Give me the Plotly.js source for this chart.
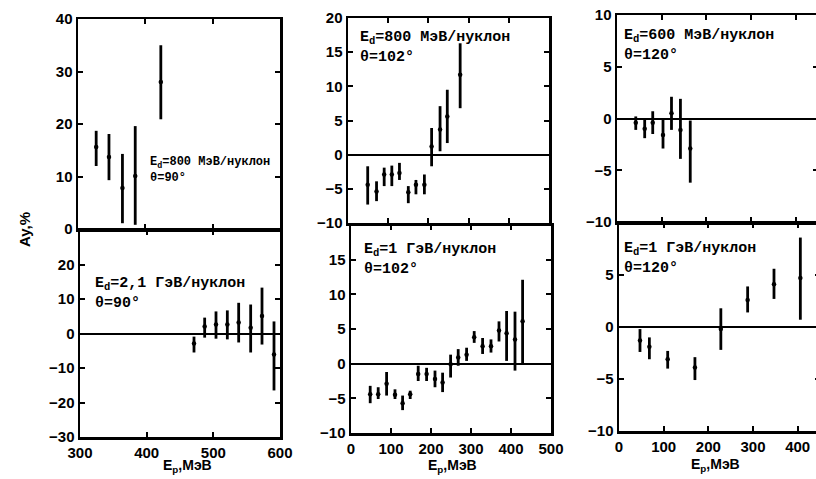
<!DOCTYPE html>
<html><head><meta charset="utf-8">
<script src="https://cdn.plot.ly/plotly-3.0.1.min.js"></script>
<style>html,body{margin:0;padding:0;overflow:hidden;background:#fff;}#plot{width:822px;height:479px;}</style>
</head><body><div id="plot"></div>
<script>
// Panel 1: Ed=800 MeV/nucleon, theta=90
const p1x = [327, 346, 366, 385, 423];
const p1y = [15.6, 13.7, 7.8, 10.1, 28.0];
const p1hi = [18.7, 18.1, 14.3, 19.6, 35.0];
const p1lo = [12.0, 9.3, 1.1, 0.8, 20.9];
// Panel 2: Ed=2.1 GeV/nucleon, theta=90
const p2x = [471, 487, 504, 521, 538, 556, 573, 591];
const p2y = [-2.9, 2.0, 2.6, 2.6, 3.2, 1.7, 5.1, -6.1];
const p2hi = [-0.9, 4.6, 6.4, 6.7, 8.9, 8.4, 13.3, 3.5];
const p2lo = [-5.5, -1.2, -1.5, -1.7, -2.6, -5.5, -3.2, -16.5];
// Panel 3: Ed=800 MeV/nucleon, theta=102
const p3x = [49, 71, 90, 109, 128, 150, 169, 190, 208, 229, 247, 279];
const p3y = [-4.4, -5.4, -2.9, -2.9, -2.7, -5.5, -4.4, -4.4, 1.2, 3.7, 5.6, 11.7];
const p3hi = [-1.7, -3.9, -1.9, -1.6, -1.2, -4.6, -3.7, -2.9, 3.9, 7.1, 9.5, 16.3];
const p3lo = [-7.3, -6.8, -4.6, -4.6, -3.7, -7.1, -5.8, -5.8, -1.7, 0.5, 1.7, 6.8];
// Panel 4: Ed=1 GeV/nucleon, theta=102
const p4x = [48, 68, 89, 110, 129, 148, 168, 189, 210, 229, 249, 268, 289, 308, 329, 350, 370, 389, 410, 429];
const p4y = [-4.4, -4.4, -2.9, -4.5, -5.7, -4.4, -1.5, -1.5, -2.2, -2.7, -0.1, 0.9, 1.3, 3.8, 2.5, 2.5, 4.8, 4.4, 3.5, 6.1];
const p4hi = [-3.2, -3.4, -1.2, -3.7, -4.6, -3.9, -0.3, -0.6, -1.0, -1.3, 1.3, 2.1, 2.3, 4.7, 3.7, 3.5, 6.1, 7.6, 7.5, 12.1];
const p4lo = [-5.7, -5.1, -4.6, -5.1, -6.7, -5.1, -2.5, -2.5, -3.4, -4.1, -2.0, -0.3, 0.4, 3.0, 1.4, 1.6, 3.2, 0.4, -1.0, -0.1];
// Panel 5: Ed=600 MeV/nucleon, theta=120
const p5x = [42, 62, 80, 103, 122, 142, 164];
const p5y = [-0.4, -1.0, -0.4, -1.6, 0.5, -1.1, -2.9];
const p5hi = [0.2, -0.1, 0.7, -0.1, 2.1, 1.9, -0.2];
const p5lo = [-1.1, -1.9, -1.5, -2.9, -1.1, -3.9, -6.2];
// Panel 6: Ed=1 GeV/nucleon, theta=120
const p6x = [47, 68, 109, 170, 228, 288, 347, 406];
const p6y = [-1.3, -1.9, -3.1, -3.9, -0.2, 2.6, 4.1, 4.7];
const p6hi = [-0.2, -1.0, -2.3, -2.9, 1.8, 3.9, 5.6, 8.6];
const p6lo = [-2.4, -3.1, -4.0, -5.1, -2.2, 1.4, 2.7, 0.7];

// Tick values
const xTicksLeft = [300, 400, 500, 600];
const xTicksMid = [0, 100, 200, 300, 400, 500];
const xTicksRight = [0, 100, 200, 300, 400];
const yTicks1 = [0, 10, 20, 30, 40];
const yTicks2 = [-30, -20, -10, 0, 10, 20];
const yTicks3 = [-10, -5, 0, 5, 10, 15, 20];
const yTicks4 = [-10, -5, 0, 5, 10, 15];
const yTicks5 = [-10, -5, 0, 5, 10];
const yTicks6 = [-10, -5, 0, 5];

const panelTexts = [
  'E<sub>d</sub>=800 МэВ/нуклон<br>θ=90°',
  'E<sub>d</sub>=2,1 ГэВ/нуклон<br>θ=90°',
  'E<sub>d</sub>=800 МэВ/нуклон<br>θ=102°',
  'E<sub>d</sub>=1 ГэВ/нуклон<br>θ=102°',
  'E<sub>d</sub>=600 МэВ/нуклон<br>θ=120°',
  'E<sub>d</sub>=1 ГэВ/нуклон<br>θ=120°'
];
const xTitle = '<b>E<sub>p</sub>,МэВ</b>';
const yTitle = '<b>Ay,%</b>';

const W = 822, H = 479;
const fx = p => p / W;
const fy = p => 1 - p / H;
const lab = arr => arr.map(v => '<b>' + String(v).replace('-', '−') + '</b>');

function tr(x, y, hi, lo, n) {
  return {
    type: 'scatter', mode: 'markers', x: x, y: y,
    xaxis: 'x' + (n === 1 ? '' : n), yaxis: 'y' + (n === 1 ? '' : n),
    marker: {color: '#000', size: 4.5},
    error_y: {type: 'data', symmetric: false,
      array: hi.map((v, i) => v - y[i]),
      arrayminus: lo.map((v, i) => y[i] - v),
      color: '#000', thickness: 2.8, width: 0},
    showlegend: false, hoverinfo: 'skip'
  };
}
const data = [
  tr(p1x, p1y, p1hi, p1lo, 1), tr(p2x, p2y, p2hi, p2lo, 2),
  tr(p3x, p3y, p3hi, p3lo, 3), tr(p4x, p4y, p4hi, p4lo, 4),
  tr(p5x, p5y, p5hi, p5lo, 5), tr(p6x, p6y, p6hi, p6lo, 6)
];

const tickFont = {family: 'Liberation Sans, Arial, sans-serif', size: 15, color: '#000'};
function ax(ticks, extra) {
  return Object.assign({
    showgrid: false, zeroline: true, zerolinecolor: '#000', zerolinewidth: 2,
    showline: true, linecolor: '#000', linewidth: 2.5, mirror: 'ticks',
    ticks: 'inside', ticklen: 5, tickwidth: 2, tickcolor: '#000',
    tickmode: 'array', tickvals: ticks, ticktext: lab(ticks),
    tickfont: tickFont, automargin: false, fixedrange: true
  }, extra);
}

const layout = {
  width: W, height: H, margin: {l: 0, r: 0, t: 0, b: 0},
  paper_bgcolor: '#fff', plot_bgcolor: '#fff', showlegend: false,
  xaxis: ax(xTicksLeft, {domain: [fx(78), fx(280)], range: [300, 600], anchor: 'y', showticklabels: false, zeroline: false}),
  yaxis: ax(yTicks1, {domain: [fy(229), fy(19)], range: [0, 40], anchor: 'x'}),
  xaxis2: ax(xTicksLeft, {domain: [fx(80), fx(280)], range: [300, 600], anchor: 'y2', zeroline: false}),
  yaxis2: ax(yTicks2, {domain: [fy(437), fy(230)], range: [-30, 30], anchor: 'x2'}),
  xaxis3: ax(xTicksMid, {domain: [fx(348), fx(549)], range: [0, 500], anchor: 'y3', showticklabels: false, zeroline: false}),
  yaxis3: ax(yTicks3, {domain: [fy(223), fy(18)], range: [-10, 20], anchor: 'x3'}),
  xaxis4: ax(xTicksMid, {domain: [fx(351), fx(551)], range: [0, 500], anchor: 'y4', zeroline: false}),
  yaxis4: ax(yTicks4, {domain: [fy(433), fy(225)], range: [-10, 20], anchor: 'x4'}),
  xaxis5: ax(xTicksRight, {domain: [fx(617), fx(818)], range: [0, 450], anchor: 'y5', showticklabels: false, zeroline: false}),
  yaxis5: ax(yTicks5, {domain: [fy(222), fy(15)], range: [-10, 10], anchor: 'x5'}),
  xaxis6: ax(xTicksRight, {domain: [fx(619), fx(820)], range: [0, 450], anchor: 'y6', zeroline: false}),
  yaxis6: ax(yTicks6, {domain: [fy(431), fy(223)], range: [-10, 10], anchor: 'x6'}),
  annotations: []
};

const annFont = {family: 'Liberation Mono', size: 15, color: '#000'};
const annPos = [[148, 153, 12], [93, 273, 15], [358, 27, 15], [362, 239, 15], [622, 25, 15], [622, 238, 15]];
annPos.forEach((p, i) => {
  layout.annotations.push({
    xref: 'paper', yref: 'paper', x: fx(p[0]), y: fy(p[1]), xanchor: 'left', yanchor: 'top',
    align: 'left', showarrow: false, text: '<b>' + panelTexts[i] + '</b>',
    font: Object.assign({}, annFont, {size: p[2]})
  });
});
[[187, 466], [452, 466], [715, 465]].forEach(p => {
  layout.annotations.push({
    xref: 'paper', yref: 'paper', x: fx(p[0]), y: fy(p[1]), xanchor: 'center', yanchor: 'middle',
    showarrow: false, text: xTitle, font: {family: 'Liberation Sans, Arial, sans-serif', size: 14, color: '#000'}
  });
});
layout.annotations.push({
  xref: 'paper', yref: 'paper', x: fx(25), y: fy(230), xanchor: 'center', yanchor: 'middle',
  showarrow: false, text: yTitle, textangle: -90, font: {family: 'Liberation Sans, Arial, sans-serif', size: 15, color: '#000'}
});

Plotly.newPlot('plot', data, layout, {staticPlot: true, displayModeBar: false});
</script></body></html>
